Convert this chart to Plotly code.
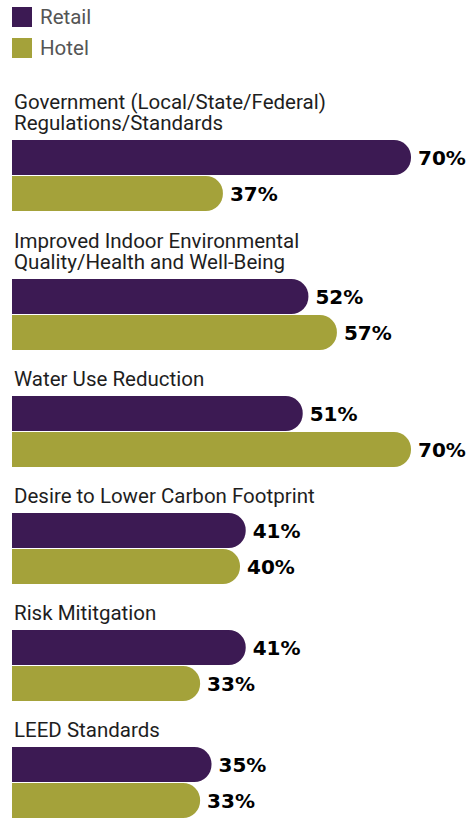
import plotly.graph_objects as go

# data
categories = [
    "Government (Local/State/Federal)<br>Regulations/Standards",
    "Improved Indoor Environmental<br>Quality/Health and Well-Being",
    "Water Use Reduction",
    "Desire to Lower Carbon Footprint",
    "Risk Mititgation",
    "LEED Standards",
]
series_names = ["Retail", "Hotel"]
retail = [70, 52, 51, 41, 41, 35]
hotel = [37, 57, 70, 40, 33, 33]
colors = ["#3c1a53", "#a4a23a"]

W, H = 471, 818
LEFT = 12          # px where bars start
PX_PER_PCT = 5.7   # horizontal scale
LINE = 21          # label line pitch
BAR_PITCH = 36
BAR_W = 35
LABEL_FONT = "Liberation Sans Narrow, Arial Narrow, Roboto, Liberation Sans, sans-serif"
LABEL_SIZE = 20.5

# vertical layout (y axis is in pixels, top = 0)
starts = []
cursor = 73
for cat in categories:
    n = len(cat.split("<br>"))
    start = cursor + 23 + 22 * n
    starts.append(start)
    cursor = start + 2 * BAR_PITCH

fig = go.Figure()
for k, (name, vals) in enumerate(zip(series_names, [retail, hotel])):
    fig.add_bar(
        x=vals,
        y=[s + BAR_W / 2 + k * BAR_PITCH for s in starts],
        orientation="h",
        width=BAR_W,
        name=name,
        marker=dict(color=colors[k], line=dict(width=0), cornerradius=17),
        text=[f"\u2009{v}%" for v in vals],
        textposition="outside",
        constraintext="none",
        cliponaxis=False,
        textfont=dict(family="DejaVu Sans", size=20, color="#000000", weight="bold"),
        hoverinfo="skip",
    )

# category labels, one annotation per line for tight leading
for cat, s in zip(categories, starts):
    lines = cat.split("<br>")
    for i, ln in enumerate(lines):
        fig.add_annotation(
            x=0, xref="x", xanchor="left",
            y=s - 17 - (len(lines) - 1 - i) * LINE, yref="y", yanchor="middle",
            text=ln, showarrow=False,
            font=dict(family=LABEL_FONT, size=LABEL_SIZE, color="#1e1e1e"),
        )

# legend drawn by hand to match the square swatches
for k, name in enumerate(series_names):
    yc = 17 + k * 31
    fig.add_shape(type="rect", xref="paper", yref="y",
                  x0=12 / W, x1=32 / W, y0=yc - 10, y1=yc + 10,
                  fillcolor=colors[k], line=dict(width=0))
    fig.add_annotation(x=38 / W, xref="paper", xanchor="left",
                       y=yc, yref="y", yanchor="middle",
                       text=name, showarrow=False,
                       font=dict(family=LABEL_FONT, size=LABEL_SIZE, color="#555555"))

fig.update_layout(
    width=W, height=H,
    margin=dict(l=0, r=0, t=0, b=0),
    paper_bgcolor="white", plot_bgcolor="white",
    showlegend=False,
    barmode="overlay",
    xaxis=dict(range=[-LEFT / PX_PER_PCT, (W - LEFT) / PX_PER_PCT], visible=False, fixedrange=True),
    yaxis=dict(range=[H, 0], visible=False, fixedrange=True),
)

# drop the default 8px body margin so the figure sits flush in the window
fig.write_html("out.html", config={"displayModeBar": False},
               post_script="document.body.style.margin='0';")
